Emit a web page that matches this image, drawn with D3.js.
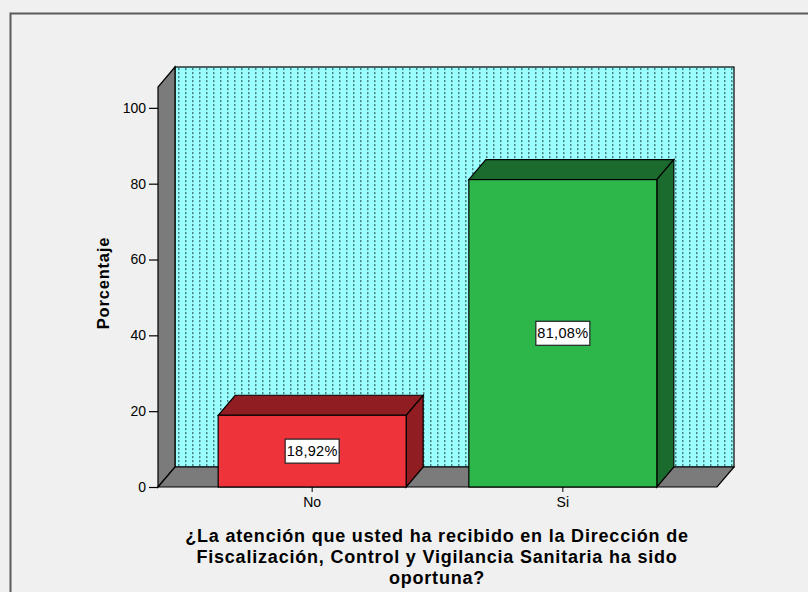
<!DOCTYPE html>
<html>
<head>
<meta charset="utf-8">
<script src="https://cdn.jsdelivr.net/npm/d3@7"></script>
<style>
  html, body { margin: 0; padding: 0; background: #f0f0f0; }
  svg { display: block; font-family: "Liberation Sans", Arial, sans-serif; }
</style>
</head>
<body>
<svg id="chart" width="808" height="592"></svg>
<script>
// Respuestas y porcentajes
const categories = ["No", "Si"];
const percentages = [18.92, 81.08];
const valueLabels = ["18,92%", "81,08%"];
const yTicks = [0, 20, 40, 60, 80, 100];
const frontColors = ["#ef333b", "#2db74b"];
const shadeColors = ["#8f1d22", "#1c6b2e"];
const yTitle = "Porcentaje";
const xTitleLines = [
  "¿La atención que usted ha recibido en la Dirección de",
  "Fiscalización, Control y Vigilancia Sanitaria ha sido",
  "oportuna?"
];

const svg = d3.select("#chart");

// Outer frame
svg.append("rect")
  .attr("x", 10.5).attr("y", 13.5)
  .attr("width", 820).attr("height", 600)
  .attr("fill", "#f0f0f0")
  .attr("stroke", "#5a5a5a").attr("stroke-width", 2);

// Plot geometry (front plane) and 3D depth
const x0 = 158, x1 = 717;
const yBase = 487, yTopFront = 87;
const dx = 17, dy = -20;

const y = d3.scaleLinear().domain([0, 105.5]).range([yBase, yTopFront]);
const x = d3.scaleBand().domain(categories).range([x0, x1])
  .paddingInner(0.25).paddingOuter(0.24);

// Dotted pattern for the back wall
const defs = svg.append("defs");
const pat = defs.append("pattern")
  .attr("id", "dots").attr("patternUnits", "userSpaceOnUse")
  .attr("x", x0 + dx + 3).attr("y", 0)
  .attr("width", 7).attr("height", 4);
pat.append("rect").attr("width", 7).attr("height", 4).attr("fill", "#9cffff");
pat.append("rect").attr("x", 0).attr("y", 0).attr("width", 1.5).attr("height", 2.2).attr("fill", "#4a8686");

const wallTop = y(105.5) + dy;
// Back wall
svg.append("rect")
  .attr("x", x0 + dx).attr("y", wallTop)
  .attr("width", x1 - x0).attr("height", yBase + dy - wallTop)
  .attr("fill", "url(#dots)")
  .attr("stroke", "#000").attr("stroke-width", 1.2);

// Left side wall
svg.append("polygon")
  .attr("points", [
    [x0, yBase], [x0, y(105.5)], [x0 + dx, wallTop], [x0 + dx, yBase + dy]
  ].map(p => p.join(",")).join(" "))
  .attr("fill", "#7b7b7b").attr("stroke", "#000").attr("stroke-width", 1.2);

// Floor
svg.append("polygon")
  .attr("points", [
    [x0, yBase], [x0 + dx, yBase + dy], [x1 + dx, yBase + dy], [x1, yBase]
  ].map(p => p.join(",")).join(" "))
  .attr("fill", "#7b7b7b").attr("stroke", "#000").attr("stroke-width", 1.2);

// Bars (front, top, side faces)
const bars = svg.append("g").selectAll("g").data(categories).join("g");
bars.each(function(c, i) {
  const g = d3.select(this);
  const bx = x(c), bw = x.bandwidth(), by = y(percentages[i]);
  g.append("polygon")
    .attr("points", [[bx, by], [bx + dx, by + dy], [bx + bw + dx, by + dy], [bx + bw, by]]
      .map(p => p.join(",")).join(" "))
    .attr("fill", shadeColors[i]).attr("stroke", "#000").attr("stroke-width", 1.2);
  g.append("polygon")
    .attr("points", [[bx + bw, by], [bx + bw + dx, by + dy], [bx + bw + dx, yBase + dy], [bx + bw, yBase]]
      .map(p => p.join(",")).join(" "))
    .attr("fill", shadeColors[i]).attr("stroke", "#000").attr("stroke-width", 1.2);
  g.append("rect")
    .attr("x", bx).attr("y", by).attr("width", bw).attr("height", yBase - by)
    .attr("fill", frontColors[i]).attr("stroke", "#000").attr("stroke-width", 1.2);

  // Value label box
  const cx = bx + bw / 2, cy = (by + yBase) / 2;
  const lbl = g.append("g");
  const t = lbl.append("text")
    .attr("x", cx).attr("y", cy + 5)
    .attr("text-anchor", "middle")
    .attr("font-size", 14.5).attr("letter-spacing", 0.3).attr("fill", "#000")
    .text(valueLabels[i]);
  const bb = t.node().getBBox();
  lbl.insert("rect", "text")
    .attr("x", cx - 27).attr("y", cy - 12)
    .attr("width", 54).attr("height", 24)
    .attr("fill", "#fff").attr("stroke", "#222").attr("stroke-width", 1.2);
});

// Y axis
const yAxis = svg.append("g")
  .attr("transform", `translate(${x0},0)`)
  .call(d3.axisLeft(y).tickValues(yTicks).tickSize(9).tickPadding(3).tickFormat(d3.format("d")));
yAxis.select(".domain").remove();
yAxis.selectAll(".tick line").attr("stroke", "#000").attr("stroke-width", 1.2);
yAxis.selectAll(".tick text").attr("font-size", 14).attr("fill", "#000")
  .attr("font-family", "Liberation Sans, Arial, sans-serif");

// X axis
const xAxis = svg.append("g")
  .attr("transform", `translate(0,${yBase})`)
  .call(d3.axisBottom(x).tickSize(5).tickPadding(5));
xAxis.select(".domain").remove();
xAxis.selectAll(".tick line").attr("stroke", "#000");
xAxis.selectAll(".tick text").attr("font-size", 14).attr("fill", "#000")
  .attr("font-family", "Liberation Sans, Arial, sans-serif");

// Axis titles
svg.append("text")
  .attr("transform", `translate(109,${283}) rotate(-90)`)
  .attr("text-anchor", "middle")
  .attr("font-size", 16.5).attr("font-weight", "bold").attr("letter-spacing", 0.8)
  .text(yTitle);

svg.append("g").selectAll("text").data(xTitleLines).join("text")
  .attr("x", 437).attr("y", (d, i) => 542 + i * 21)
  .attr("text-anchor", "middle")
  .attr("font-size", 18).attr("font-weight", "bold").attr("letter-spacing", 0.8)
  .text(d => d);
</script>
</body>
</html>
